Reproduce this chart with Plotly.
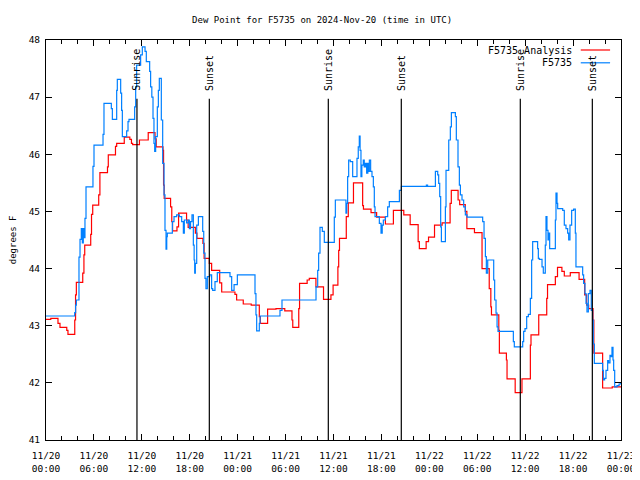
import pandas as pd
import plotly.graph_objects as go

base = pd.Timestamp("2024-11-20 00:00")

# F5735 Analysis (red) : hours since 11/20 00:00 UTC, dew point (F)
analysis_hours = [0.0, 0.6, 1.5, 1.75, 2.6, 2.75, 3.6, 3.7, 3.8, 4.6, 4.75, 4.85, 5.6, 5.7, 5.85,
                  6.6, 6.75, 7.7, 7.8, 8.7, 8.85, 9.8, 10.5, 10.7, 10.85, 11.7, 12.8, 13.65, 13.8,
                  14.65, 14.72, 14.8, 15.6, 15.75, 15.85, 16.4, 16.6, 17.6, 17.8, 18.7, 18.9, 19.65,
                  19.8, 20.45, 20.74, 21.75, 22.0, 23.66, 23.87, 24.7, 25.7, 26.71, 26.85, 27.75,
                  28.8, 29.9, 30.8, 30.9, 31.65, 31.75, 32.7, 32.97, 33.8, 34.75, 35.68, 35.95,
                  36.55, 36.65, 36.75, 37.6, 37.85, 38.5, 39.65, 39.75, 40.7, 41.4, 42.5, 43.5,
                  44.8, 45.6, 46.6, 46.75, 47.6, 47.9, 48.65, 49.6, 50.6, 50.75, 51.6, 51.8, 52.5,
                  52.7, 53.65, 54.6, 55.5, 55.7, 55.78, 56.7, 56.77, 57.65, 57.73, 58.75, 59.6,
                  60.65, 60.73, 61.7, 62.7, 62.8, 63.78, 64.05, 64.6, 64.9, 65.65, 66.75, 67.45,
                  67.7, 67.95, 68.5, 68.6, 69.7, 70.9, 72.0]
analysis_vals = [43.11, 43.13, 43.04, 42.97, 42.92, 42.85, 43.1, 43.54, 43.76, 43.92, 44.24, 44.41,
                 44.6, 44.95, 45.11, 45.29, 45.68, 45.78, 45.99, 46.14, 46.19, 46.3, 46.26, 46.19,
                 46.17, 46.25, 46.38, 46.27, 46.13, 46.07, 45.46, 45.23, 45.08, 44.82, 44.66, 44.73,
                 44.97, 44.85, 44.72, 44.62, 44.53, 44.44, 44.18, 44.09, 43.97, 43.75, 43.59, 43.55,
                 43.45, 43.38, 43.36, 43.16, 43.04, 43.29, 43.3, 43.26, 43.1, 42.97, 43.3, 43.74,
                 43.8, 43.83, 43.68, 43.46, 43.54, 43.71, 44.03, 44.32, 44.53, 44.91, 45.15, 45.5,
                 45.1, 45.04, 44.98, 44.9, 44.78, 45.02, 44.94, 44.77, 44.47, 44.35, 44.47, 44.55,
                 44.76, 44.8, 45.14, 45.37, 45.2, 45.12, 45.0, 44.7, 44.63, 44.0, 43.65, 43.33,
                 43.19, 42.92, 42.52, 42.4, 42.07, 41.83, 42.07, 42.66, 42.84, 43.19, 43.48, 43.72,
                 43.86, 44.02, 43.95, 43.87, 43.93, 43.81, 43.54, 43.36, 43.3, 43.1, 42.52, 41.91,
                 41.93, 41.93]

# F5735 observations (blue)
obs_hours = [0.0, 3.59, 3.71, 3.8, 4.13, 4.26, 4.42, 4.55, 4.67, 4.76, 4.88, 5.01, 5.88, 6.01,
             7.14, 7.26, 8.18, 8.31, 8.85, 8.93, 9.35, 9.47, 9.56, 10.1, 10.27, 10.39, 11.1,
             11.23, 11.35, 11.85, 12.06, 12.4, 12.56, 12.98, 13.1, 13.25, 13.4, 13.52, 13.61,
             13.73, 13.94, 14.07, 14.19, 14.44, 14.61, 14.78, 14.9, 15.03, 15.12, 15.19, 15.82,
             16.03, 16.36, 16.7, 16.99, 17.2, 17.32, 17.6, 17.82, 17.95, 18.1, 18.28, 18.45,
             18.55, 18.62, 18.7, 18.87, 19.08, 19.62, 19.75, 19.91, 20.03, 20.2, 20.5, 20.74,
             20.87, 21.16, 21.45, 23.04, 23.25, 23.55, 23.96, 26.17, 26.29, 26.38, 26.71, 26.8,
             29.3, 29.55, 33.81, 34.02, 34.14, 34.31, 34.6, 34.85, 36.1, 36.23, 37.56, 37.65,
             37.77, 37.9, 38.1, 38.4, 38.94, 39.1, 39.23, 39.33, 39.44, 39.55, 39.73, 39.85,
             40.0, 40.15, 40.3, 40.4, 40.49, 40.65, 40.82, 40.99, 41.11, 41.2, 41.74, 41.95,
             42.1, 42.24, 42.5, 42.78, 42.99, 44.25, 44.5, 47.63, 47.78, 48.76, 49.05, 49.17,
             49.3, 49.42, 49.51, 50.01, 50.09, 50.43, 50.63, 50.76, 51.26, 51.38, 51.59, 51.76,
             51.89, 52.09, 52.3, 52.51, 52.72, 54.68, 54.85, 55.02, 55.14, 55.31, 56.06, 56.18,
             56.35, 56.48, 56.6, 58.52, 58.64, 59.69, 59.81, 59.98, 60.19, 60.4, 60.65, 60.81,
             60.94, 61.56, 61.65, 61.77, 62.11, 62.27, 62.52, 62.61, 62.73, 62.86, 62.94, 63.07,
             63.78, 63.86, 63.99, 64.07, 64.7, 64.9, 65.11, 65.32, 65.45, 65.61, 65.82, 66.07,
             66.28, 66.36, 67.2, 67.32, 67.49, 67.62, 67.74, 67.91, 68.12, 68.28, 68.45, 68.53,
             68.66, 69.7, 69.79, 69.95, 70.12, 70.33, 70.45, 70.62, 70.75, 70.87, 71.0, 71.08,
             71.21, 71.5, 71.76, 71.92]
obs_vals = [43.17, 43.23, 43.36, 43.45, 44.2, 44.51, 44.7, 44.45, 44.7, 44.54, 44.88, 45.43, 45.79,
            46.16, 46.35, 46.89, 46.8, 46.61, 47.12, 47.31, 47.07, 46.77, 46.31, 46.41, 46.57,
            46.61, 46.83, 47.18, 47.56, 47.74, 47.88, 47.8, 47.62, 47.45, 47.18, 47.0, 46.63,
            46.19, 46.05, 46.31, 46.83, 47.12, 47.33, 46.6, 45.84, 45.29, 44.67, 44.34, 44.56,
            44.62, 44.82, 44.91, 44.94, 44.91, 44.82, 44.62, 44.85, 44.8, 44.85, 44.7, 44.82,
            44.94, 44.41, 44.15, 43.92, 44.09, 44.76, 44.91, 44.65, 44.27, 43.83, 43.65, 43.86,
            43.89, 43.65, 43.62, 43.77, 43.93, 43.86, 43.62, 43.72, 43.89, 43.56, 43.19, 42.91,
            43.04, 43.17, 43.27, 43.45, 43.68, 43.97, 44.27, 44.72, 44.65, 44.46, 44.9, 45.2,
            44.97, 45.14, 45.61, 45.9, 45.87, 45.61, 45.93, 46.13, 46.32, 46.07, 45.61, 45.81,
            45.9, 45.78, 45.84, 45.67, 45.84, 45.7, 45.9, 45.7, 45.61, 45.43, 45.08, 44.91,
            44.79, 44.62, 44.76, 44.85, 44.91, 45.08, 45.17, 45.37, 45.44, 45.46, 45.44, 45.7,
            45.64, 45.49, 45.26, 44.73, 44.47, 45.08, 45.72, 46.25, 46.48, 46.73, 46.66, 46.25,
            45.78, 45.46, 45.29, 45.2, 45.08, 44.94, 44.9, 44.82, 44.53, 44.21, 43.92, 44.15,
            43.8, 43.45, 43.22, 42.98, 42.9, 42.72, 42.63, 42.72, 42.9, 42.95, 43.16, 43.2,
            43.48, 44.15, 44.47, 44.35, 44.18, 44.16, 44.03, 43.92, 44.41, 44.91, 44.67, 44.5,
            44.62, 44.35, 44.85, 45.32, 45.14, 45.05, 45.02, 44.76, 44.7, 44.62, 44.5, 44.76,
            45.02, 45.04, 44.62, 44.03, 43.89, 43.74, 43.56, 43.39, 43.24, 43.56, 43.62, 43.27,
            43.1, 42.68, 42.34, 42.22, 42.05, 42.08, 42.22, 42.39, 42.35, 42.48, 42.46, 42.62,
            42.4, 42.22, 41.93, 41.95, 41.98, 42.0]

event_hours = [11.39, 20.45, 35.35, 44.49, 59.39, 68.41]
event_labels = ["Sunrise", "Sunset", "Sunrise", "Sunset", "Sunrise", "Sunset"]

x_tick_hours = list(range(0, 73, 6))
y_tick_vals = [41, 42, 43, 44, 45, 46, 47, 48]

series_names = ["F5735 Analysis", "F5735"]
series_colors = ["#ff0000", "#0080ff"]


def to_time(hours):
    return [base + pd.Timedelta(hours=h) for h in hours]


FONT = "DejaVu Sans Mono"
FS = 9

fig = go.Figure()
fig.add_trace(go.Scatter(x=to_time(analysis_hours), y=analysis_vals, mode="lines",
                         line=dict(color=series_colors[0], width=1.2, shape="hv"),
                         name=series_names[0], showlegend=False))
fig.add_trace(go.Scatter(x=to_time(obs_hours), y=obs_vals, mode="lines",
                         line=dict(color=series_colors[1], width=1.2, shape="hv"),
                         name=series_names[1], showlegend=False))

tick_times = to_time(x_tick_hours)
tick_text = [t.strftime("%m/%d<br>%H:%M") for t in tick_times]

# sunrise / sunset markers
for h, lab in zip(event_hours, event_labels):
    t = base + pd.Timedelta(hours=h)
    fig.add_shape(type="line", xref="x", yref="paper", x0=t, x1=t, y0=0, y1=0.853,
                  line=dict(color="black", width=1.2))
    fig.add_annotation(x=t, y=0.868, xref="x", yref="paper", text=lab, textangle=-90,
                       showarrow=False, xanchor="center", yanchor="bottom",
                       font=dict(family=FONT, size=FS + 1, color="black"))

# key (text left, line sample right, like gnuplot)
key_y = [0.975, 0.943]
for name, col, ky in zip(series_names, series_colors, key_y):
    fig.add_annotation(x=0.918, y=ky, xref="paper", yref="paper", text=name, showarrow=False,
                       xanchor="right", yanchor="middle",
                       font=dict(family=FONT, size=FS + 1, color="black"))
    fig.add_shape(type="line", xref="paper", yref="paper", x0=0.930, x1=0.981, y0=ky, y1=ky,
                  line=dict(color=col, width=1.2))

fig.add_annotation(x=-0.057, y=0.5, xref="paper", yref="paper", text="degrees F", textangle=-90,
                   showarrow=False, xanchor="center", yanchor="middle",
                   font=dict(family=FONT, size=FS, color="black"))

# page has an 8px body margin, so the figure is shrunk by 8px and margins compensate
fig.update_layout(
    width=632, height=472,
    margin=dict(l=38, r=19, t=32, b=40, autoexpand=False),
    paper_bgcolor="white", plot_bgcolor="white",
    font=dict(family=FONT, size=FS, color="black"),
    title=dict(text="Dew Point for F5735 on 2024-Nov-20 (time in UTC)", x=0.497, xref="container",
               xanchor="center", y=1 - 12 / 472, yref="container", yanchor="middle",
               font=dict(family=FONT, size=FS, color="black")),
    showlegend=False,
)
fig.update_xaxes(type="date", range=[base, base + pd.Timedelta(hours=72)],
                 tickmode="array", tickvals=tick_times, ticktext=tick_text,
                 ticks="inside", ticklen=6, tickcolor="black", tickwidth=1,
                 minor=dict(ticks="inside", ticklen=4, tickcolor="black", tick0=base,
                            dtick=2 * 3600 * 1000, showgrid=False),
                 showline=True, linecolor="black", linewidth=1, mirror="ticks",
                 showgrid=False, zeroline=False, ticklabelstandoff=7,
                 tickfont=dict(family=FONT, size=FS + 0.5, color="black"))
fig.update_yaxes(range=[41, 48], tickmode="array", tickvals=y_tick_vals,
                 ticks="inside", ticklen=6, tickcolor="black", tickwidth=1,
                 showline=True, linecolor="black", linewidth=1, mirror="ticks",
                 showgrid=False, zeroline=False, ticklabelstandoff=3,
                 tickfont=dict(family=FONT, size=FS + 0.5, color="black"))

fig.write_html("out.html")
